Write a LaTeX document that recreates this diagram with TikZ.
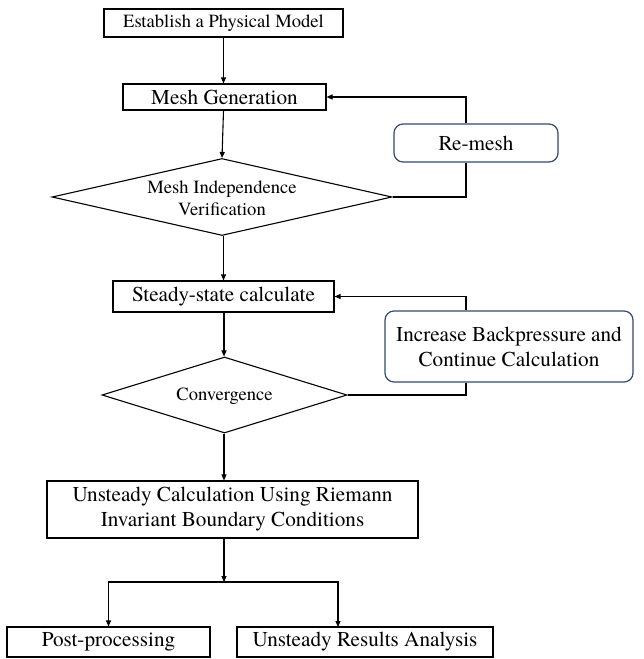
\documentclass[tikz,border=0pt]{standalone}
\usepackage{fontspec}
\setmainfont{texgyretermes}[Extension=.otf,UprightFont=*-regular,BoldFont=*-bold]
\usetikzlibrary{shapes.geometric,arrows.meta,calc}
\definecolor{rbord}{RGB}{52,74,112}
\begin{document}
\begin{tikzpicture}[x=1pt,y=-1pt,
  line width=1.1pt,
  bigtxt/.style={font=\fontsize{21.2}{25}\selectfont},
  smalltxt/.style={font=\fontsize{18.6}{22}\selectfont},
  rectbox/.style={draw=black,rectangle,inner sep=0pt,align=center,bigtxt},
  roundbox/.style={draw=rbord,rectangle,rounded corners=9pt,inner sep=0pt,align=center,bigtxt,line width=1.2pt},
  diabox/.style={draw=black,diamond,inner sep=0pt},
  arr/.style={-{Triangle[length=6pt,width=5pt]}},
  ]
\useasboundingbox[fill=white] (0,0) rectangle (643,659);

\node[rectbox,smalltxt,minimum width=239pt,minimum height=28pt] (est) at (223.5,23) {Establish a Physical Model};
\node[rectbox,minimum width=203pt,minimum height=26pt] (mesh) at (224.5,97) {Mesh Generation};
\node[roundbox,minimum width=164pt,minimum height=38pt] (remesh) at (476,143) {Re-mesh};
\node[diabox,minimum width=340pt,minimum height=77pt] (d1) at (222,197) {};
\node[smalltxt,align=center,inner sep=0pt] (d1t) at (222,198) {Mesh Independence\\Verification};
\node[rectbox,minimum width=221pt,minimum height=31pt] (steady) at (223.5,296.5) {Steady-state calculate};
\node[roundbox,minimum width=248pt,minimum height=71pt] (incr) at (509,346.5) {Increase Backpressure and\\Continue Calculation};
\node[diabox,minimum width=245pt,minimum height=76pt] (conv) at (224.5,395) {};
\node[smalltxt,inner sep=0pt] (convt) at (224.5,396) {Convergence};
\node[rectbox,minimum width=371pt,minimum height=57pt] (unst) at (232.5,509.5) {Unsteady Calculation Using Riemann\\Invariant Boundary Conditions};
\node[rectbox,minimum width=203pt,minimum height=30pt] (post) at (108.5,642) {Post-processing};
\node[rectbox,minimum width=256pt,minimum height=30pt] (ura) at (365,642) {Unsteady Results Analysis};

\coordinate (rx) at (466,0);
\coordinate (j) at (224,582);
\coordinate (uraIn) at (338,627);

\draw[arr] (est.south -| 223.5,0) -- (223.5,0 |- mesh.north);
\draw[arr] (mesh.south -| 223.5,0) -- (d1.north);
\draw[arr] (d1.south -| 223.5,0) -- (223.5,0 |- steady.north);
\draw[arr] (steady.south -| 224,0) -- (224,0 |- conv.north);
\draw[arr] (conv.south -| j) -- (j |- unst.north);
\draw[arr] (j |- unst.south) -- (j);
\draw[arr] (j) -| (post.north);
\draw[arr] (j) -| (uraIn);

\draw (d1.east) -| (rx |- remesh.south);
\draw[arr] (rx |- remesh.north) |- (mesh.east);
\draw (conv.east) -| (rx |- incr.south);
\draw[arr] (rx |- incr.north) |- (steady.east);
\end{tikzpicture}
\end{document}
